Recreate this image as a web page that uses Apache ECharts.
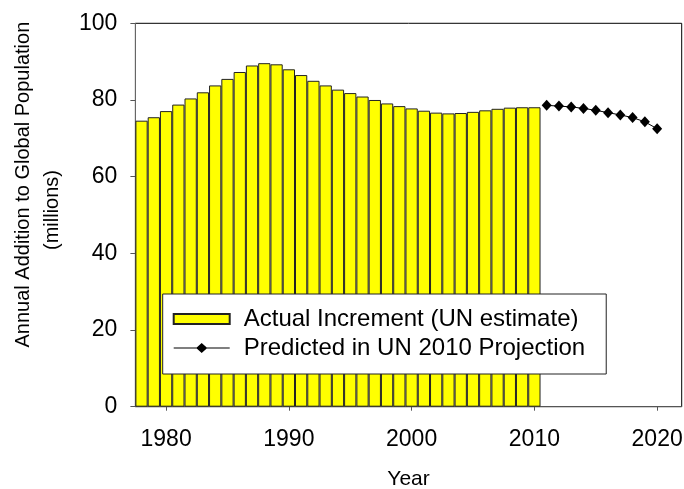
<!DOCTYPE html>
<html>
	<head>
		<meta charset="UTF-8">
		<title>Annual Addition to Global Population</title>
		<style>
		html,body{margin:0;padding:0;background:#fff;}
		#main{width:684px;height:489px;}
		</style>
	</head>
	<body>
		<div id="main"></div>

<script src="https://cdn.jsdelivr.net/npm/echarts@6/dist/echarts.min.js"></script>
<script type="text/javascript">
	// 实际增量 (UN estimate)
	var actualYears = [1978, 1979, 1980, 1981, 1982, 1983, 1984, 1985, 1986, 1987, 1988,
		1989, 1990, 1991, 1992, 1993, 1994, 1995, 1996, 1997, 1998, 1999,
		2000, 2001, 2002, 2003, 2004, 2005, 2006, 2007, 2008, 2009, 2010];
	var actualValues = [74.6, 75.5, 77.1, 78.8, 80.4, 82.0, 83.8, 85.5, 87.3, 89.0, 89.6,
		89.3, 88.0, 86.5, 85.0, 83.8, 82.7, 81.8, 80.9, 80.0, 79.1, 78.4,
		77.8, 77.2, 76.7, 76.5, 76.6, 76.9, 77.3, 77.7, 78.0, 78.1, 78.1];
	// UN 2010 预测
	var predYears = [2011, 2012, 2013, 2014, 2015, 2016, 2017, 2018, 2019, 2020];
	var predValues = [78.6, 78.4, 78.2, 77.8, 77.3, 76.7, 76.1, 75.4, 74.3, 72.5];
	var xTicks = [1980, 1990, 2000, 2010, 2020];

	var xMin = 1977.5, xMax = 2022;
	var gridLeft = 135.4, gridRight = 2.3, gridTop = 23.3, gridBottom = 82.3;
	var plotW = 684 - gridLeft - gridRight;
	var barW = plotW / (xMax - xMin);

	var font = 'Arial, "Liberation Sans", sans-serif';
	// 图例: 线 + 菱形
	var lineIcon = 'path://M0,4.6L23,4.6L28,0L33,4.6L56,4.6L56,5.4L33,5.4L28,10L23,5.4L0,5.4Z';

	var barData = [];
	for (var i = 0; i < actualYears.length; i++) {
		barData.push([actualYears[i], actualValues[i]]);
	}
	var lineData = [];
	for (var j = 0; j < predYears.length; j++) {
		lineData.push([predYears[j], predValues[j]]);
	}

	var chart = echarts.init(document.getElementById("main"));
	var option = {
		animation: false,
		backgroundColor: '#fff',
		grid: {
			left: gridLeft, right: gridRight, top: gridTop, bottom: gridBottom,
			outerBoundsMode: 'none', containLabel: false,
			show: true, borderColor: '#000', borderWidth: 1, backgroundColor: '#fff'
		},
		xAxis: {
			type: 'value',
			min: xMin, max: xMax,
			splitLine: {show: false},
			axisLine: {lineStyle: {color: '#555', width: 1}},
			axisTick: {show: true, length: 4, customValues: xTicks, lineStyle: {color: '#555'}},
			axisLabel: {
				customValues: xTicks, margin: 21,
				color: '#000', fontSize: 23, fontFamily: font,
				formatter: function(v) { return String(v); }
			},
			name: 'Year',
			nameLocation: 'middle',
			nameGap: 62,
			nameTextStyle: {color: '#000', fontSize: 21, fontFamily: font}
		},
		yAxis: {
			type: 'value',
			min: 0, max: 100, interval: 20,
			splitLine: {show: false},
			axisLine: {show: true, lineStyle: {color: '#666', width: 1}},
			axisTick: {show: true, length: 5, lineStyle: {color: '#555'}},
			axisLabel: {margin: 18, color: '#000', fontSize: 23, fontFamily: font}
		},
		legend: {
			left: 162.7, top: 294,
			orient: 'vertical',
			backgroundColor: '#fff',
			borderColor: '#222', borderWidth: 1,
			padding: [13, 21, 14, 10],
			itemWidth: 56, itemHeight: 10, itemGap: 5,
			textStyle: {color: '#000', fontSize: 24, fontFamily: font, padding: [0, 0, 0, 9]},
			data: [
				{name: 'Actual Increment (UN estimate)', icon: 'rect'},
				{name: 'Predicted in UN 2010 Projection', icon: lineIcon, itemStyle: {color: '#000', borderWidth: 0}}
			]
		},
		graphic: [
			{
				type: 'text', left: 13, top: 21.7, rotation: Math.PI / 2,
				style: {text: 'Annual Addition to Global Population', fill: '#000', fontSize: 20, fontFamily: font}
			},
			{
				type: 'text', left: 42, top: 170, rotation: Math.PI / 2,
				style: {text: '(millions)', fill: '#000', fontSize: 20, fontFamily: font}
			}
		],
		series: [
			{
				name: 'Actual Increment (UN estimate)',
				type: 'bar',
				data: barData,
				barWidth: barW,
				itemStyle: {color: '#ffff00', borderColor: '#222', borderWidth: 1}
			},
			{
				name: 'Predicted in UN 2010 Projection',
				type: 'line',
				data: lineData,
				symbol: 'diamond',
				symbolSize: [10, 11],
				lineStyle: {color: '#000', width: 1},
				itemStyle: {color: '#000'}
			}
		]
	};
	chart.setOption(option);
</script>
	</body>
</html>
